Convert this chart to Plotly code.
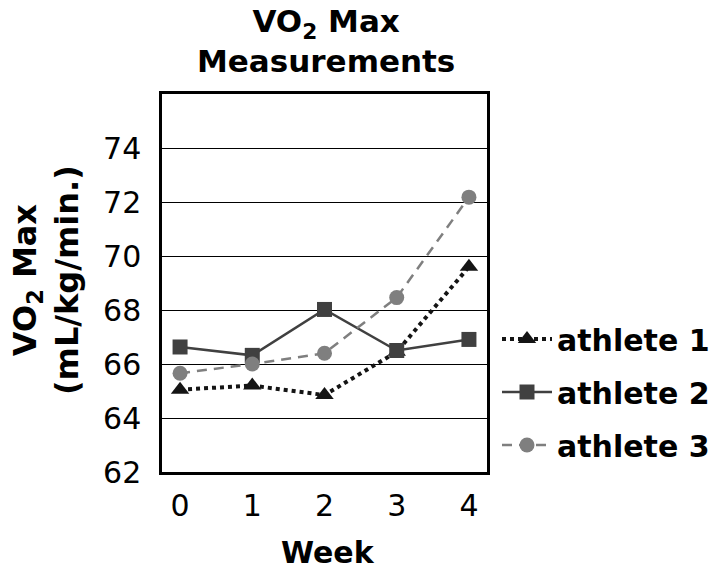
import plotly.graph_objects as go

weeks = [0, 1, 2, 3, 4]
week_labels = ["0", "1", "2", "3", "4"]
athlete1 = [65.05, 65.2, 64.85, 66.45, 69.6]
athlete2 = [66.63, 66.32, 68.02, 66.5, 66.91]
athlete3 = [65.66, 66.0, 66.4, 68.46, 72.18]
y_ticks = [62, 64, 66, 68, 70, 72, 74]

FONT = "DejaVu Sans"
OFF = 8  # default page body margin
W, H = 720 - OFF, 569 - OFF
L, T = 162 - OFF, 94 - OFF
R = W - (487 - OFF)
B = H - (472 - OFF)
PW, PH = W - L - R, H - T - B


def px(sx):
    return (sx - OFF - L) / PW


def py(sy):
    return (H - B - (sy - OFF)) / PH


fig = go.Figure()
fig.add_trace(go.Scatter(
    x=weeks, y=athlete1, name="athlete 1", mode="lines+markers",
    line=dict(color="#141414", width=4, dash="4px,4px"),
    marker=dict(symbol="triangle-up", size=16, color="#141414"),
    legendgroup="a1"))
fig.add_trace(go.Scatter(
    x=weeks, y=athlete2, name="athlete 2", mode="lines+markers",
    line=dict(color="#404040", width=2.5),
    marker=dict(symbol="square", size=15, color="#404040"),
    legendgroup="a2"))
fig.add_trace(go.Scatter(
    x=weeks, y=athlete3, name="athlete 3", mode="lines+markers",
    line=dict(color="#7f7f7f", width=2.5, dash="10px,7px"),
    marker=dict(symbol="circle", size=15, color="#7f7f7f"),
    legendgroup="a3"))

fig.update_layout(
    width=W, height=H,
    margin=dict(l=L, r=R, t=T, b=B, autoexpand=False),
    paper_bgcolor="white", plot_bgcolor="white",
    font=dict(family=FONT, color="black", size=30),
    xaxis=dict(range=[-0.25, 4.25], tickvals=weeks, ticktext=week_labels,
               showgrid=False, zeroline=False, showline=True, linecolor="black",
               linewidth=2.5, mirror=True, ticks="", ticklabelstandoff=5,
               automargin=False,
               tickfont=dict(size=30, family=FONT)),
    yaxis=dict(range=[62, 76], tickvals=y_ticks, showgrid=True, gridcolor="black",
               gridwidth=1.3, zeroline=False, showline=True, linecolor="black",
               linewidth=2.5, mirror=True, ticks="", ticklabelstandoff=12,
               automargin=False,
               tickfont=dict(size=30, family=FONT)),
    legend=dict(x=px(497), xanchor="left", y=py(392), yanchor="middle",
                font=dict(size=30, family=FONT, weight="bold"),
                tracegroupgap=11, traceorder="grouped", itemwidth=50,
                bgcolor="rgba(0,0,0,0)"),
    showlegend=True,
)

# chart title
fig.add_annotation(text="<b>VO<sub>2</sub> Max<br>Measurements</b>",
                   xref="paper", yref="paper",
                   x=px(326), y=py(41), xanchor="center", yanchor="middle",
                   showarrow=False, font=dict(family=FONT, size=31, color="black"))
# x-axis title
fig.add_annotation(text="<b>Week</b>", xref="paper", yref="paper",
                   x=px(328), y=py(552), xanchor="center", yanchor="middle",
                   showarrow=False, font=dict(family=FONT, size=30, color="black"))
# y-axis title
fig.add_annotation(text="<b>VO<sub>2</sub> Max<br>(mL/kg/min.)</b>", xref="paper", yref="paper",
                   x=px(46), y=py(280), xanchor="center", yanchor="middle",
                   textangle=-90, showarrow=False,
                   font=dict(family=FONT, size=32, color="black"))

fig.write_html("out.html")
